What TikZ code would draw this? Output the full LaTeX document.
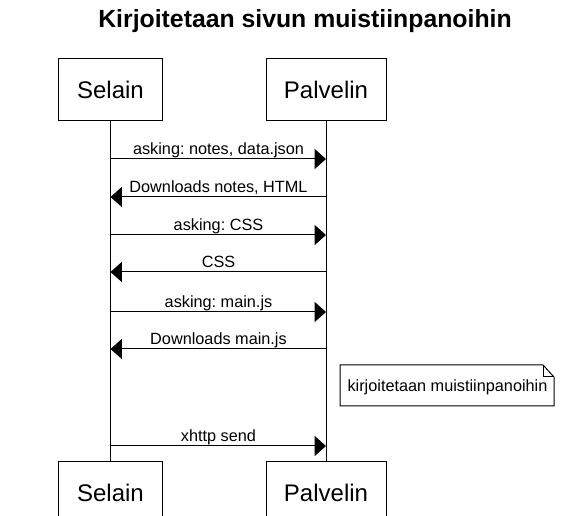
\documentclass[tikz,border=0pt]{standalone}
\usepackage{fontspec}
\setmainfont{Liberation Sans}
\usetikzlibrary{arrows.meta}
\frenchspacing

\pgfmathsetmacro{\selx}{110.5}
\pgfmathsetmacro{\palx}{326}

\begin{document}
\begin{tikzpicture}[x=0.75pt,y=-0.75pt,line width=0.75pt,
    actor/.style={draw, minimum height=46.5pt, inner sep=0pt, font=\fontsize{18}{21}\selectfont},
    msg/.style={-{Triangle[length=8.5pt,width=15pt]}},
    msglabel/.style={anchor=base, inner sep=0pt, font=\fontsize{12.2}{14}\selectfont}]
            \clip (0,0) rectangle (572,516);
            \node[anchor=base, inner sep=0pt, font=\bfseries\fontsize{18.6}{21}\selectfont] (title) at (305,28) {Kirjoitetaan sivun muistiinpanoihin};
            \node[actor, minimum width=78pt] (selT) at (\selx,90) {Selain};
            \node[actor, minimum width=90pt] (palT) at (\palx,90) {Palvelin};
            \node[actor, minimum width=78pt] (selB) at (\selx,493) {Selain};
            \node[actor, minimum width=90pt] (palB) at (\palx,493) {Palvelin};
            \draw (selT) -- (selB);
            \draw (palT) -- (palB);
            \foreach \i/\y/\from/\to/\txt in {1/159/s/p/{asking: notes, data.json},
                                              2/197/p/s/{Downloads notes, HTML},
                                              3/235/s/p/{asking: CSS},
                                              4/272/p/s/{CSS},
                                              5/312/s/p/{asking: main.js},
                                              6/349/p/s/{Downloads main.js},
                                              7/446/s/p/{xhttp send}}{
                \coordinate (s\i) at (\selx,\y);
                \coordinate (p\i) at (\palx,\y);
                \draw[msg] (\from\i) -- (\to\i);
                \node[msglabel] (m\i) at (218.5,\y-4) {\txt};
            }
            \node[msglabel] (note) at (447.5,392) {kirjoitetaan muistiinpanoihin};
            \draw (340,365) -- (543,365) -- (554,377) -- (554,406) -- (340,406) -- cycle;
            \draw (543,365) -- (543,377) -- (554,377);
        \end{tikzpicture}
\end{document}
